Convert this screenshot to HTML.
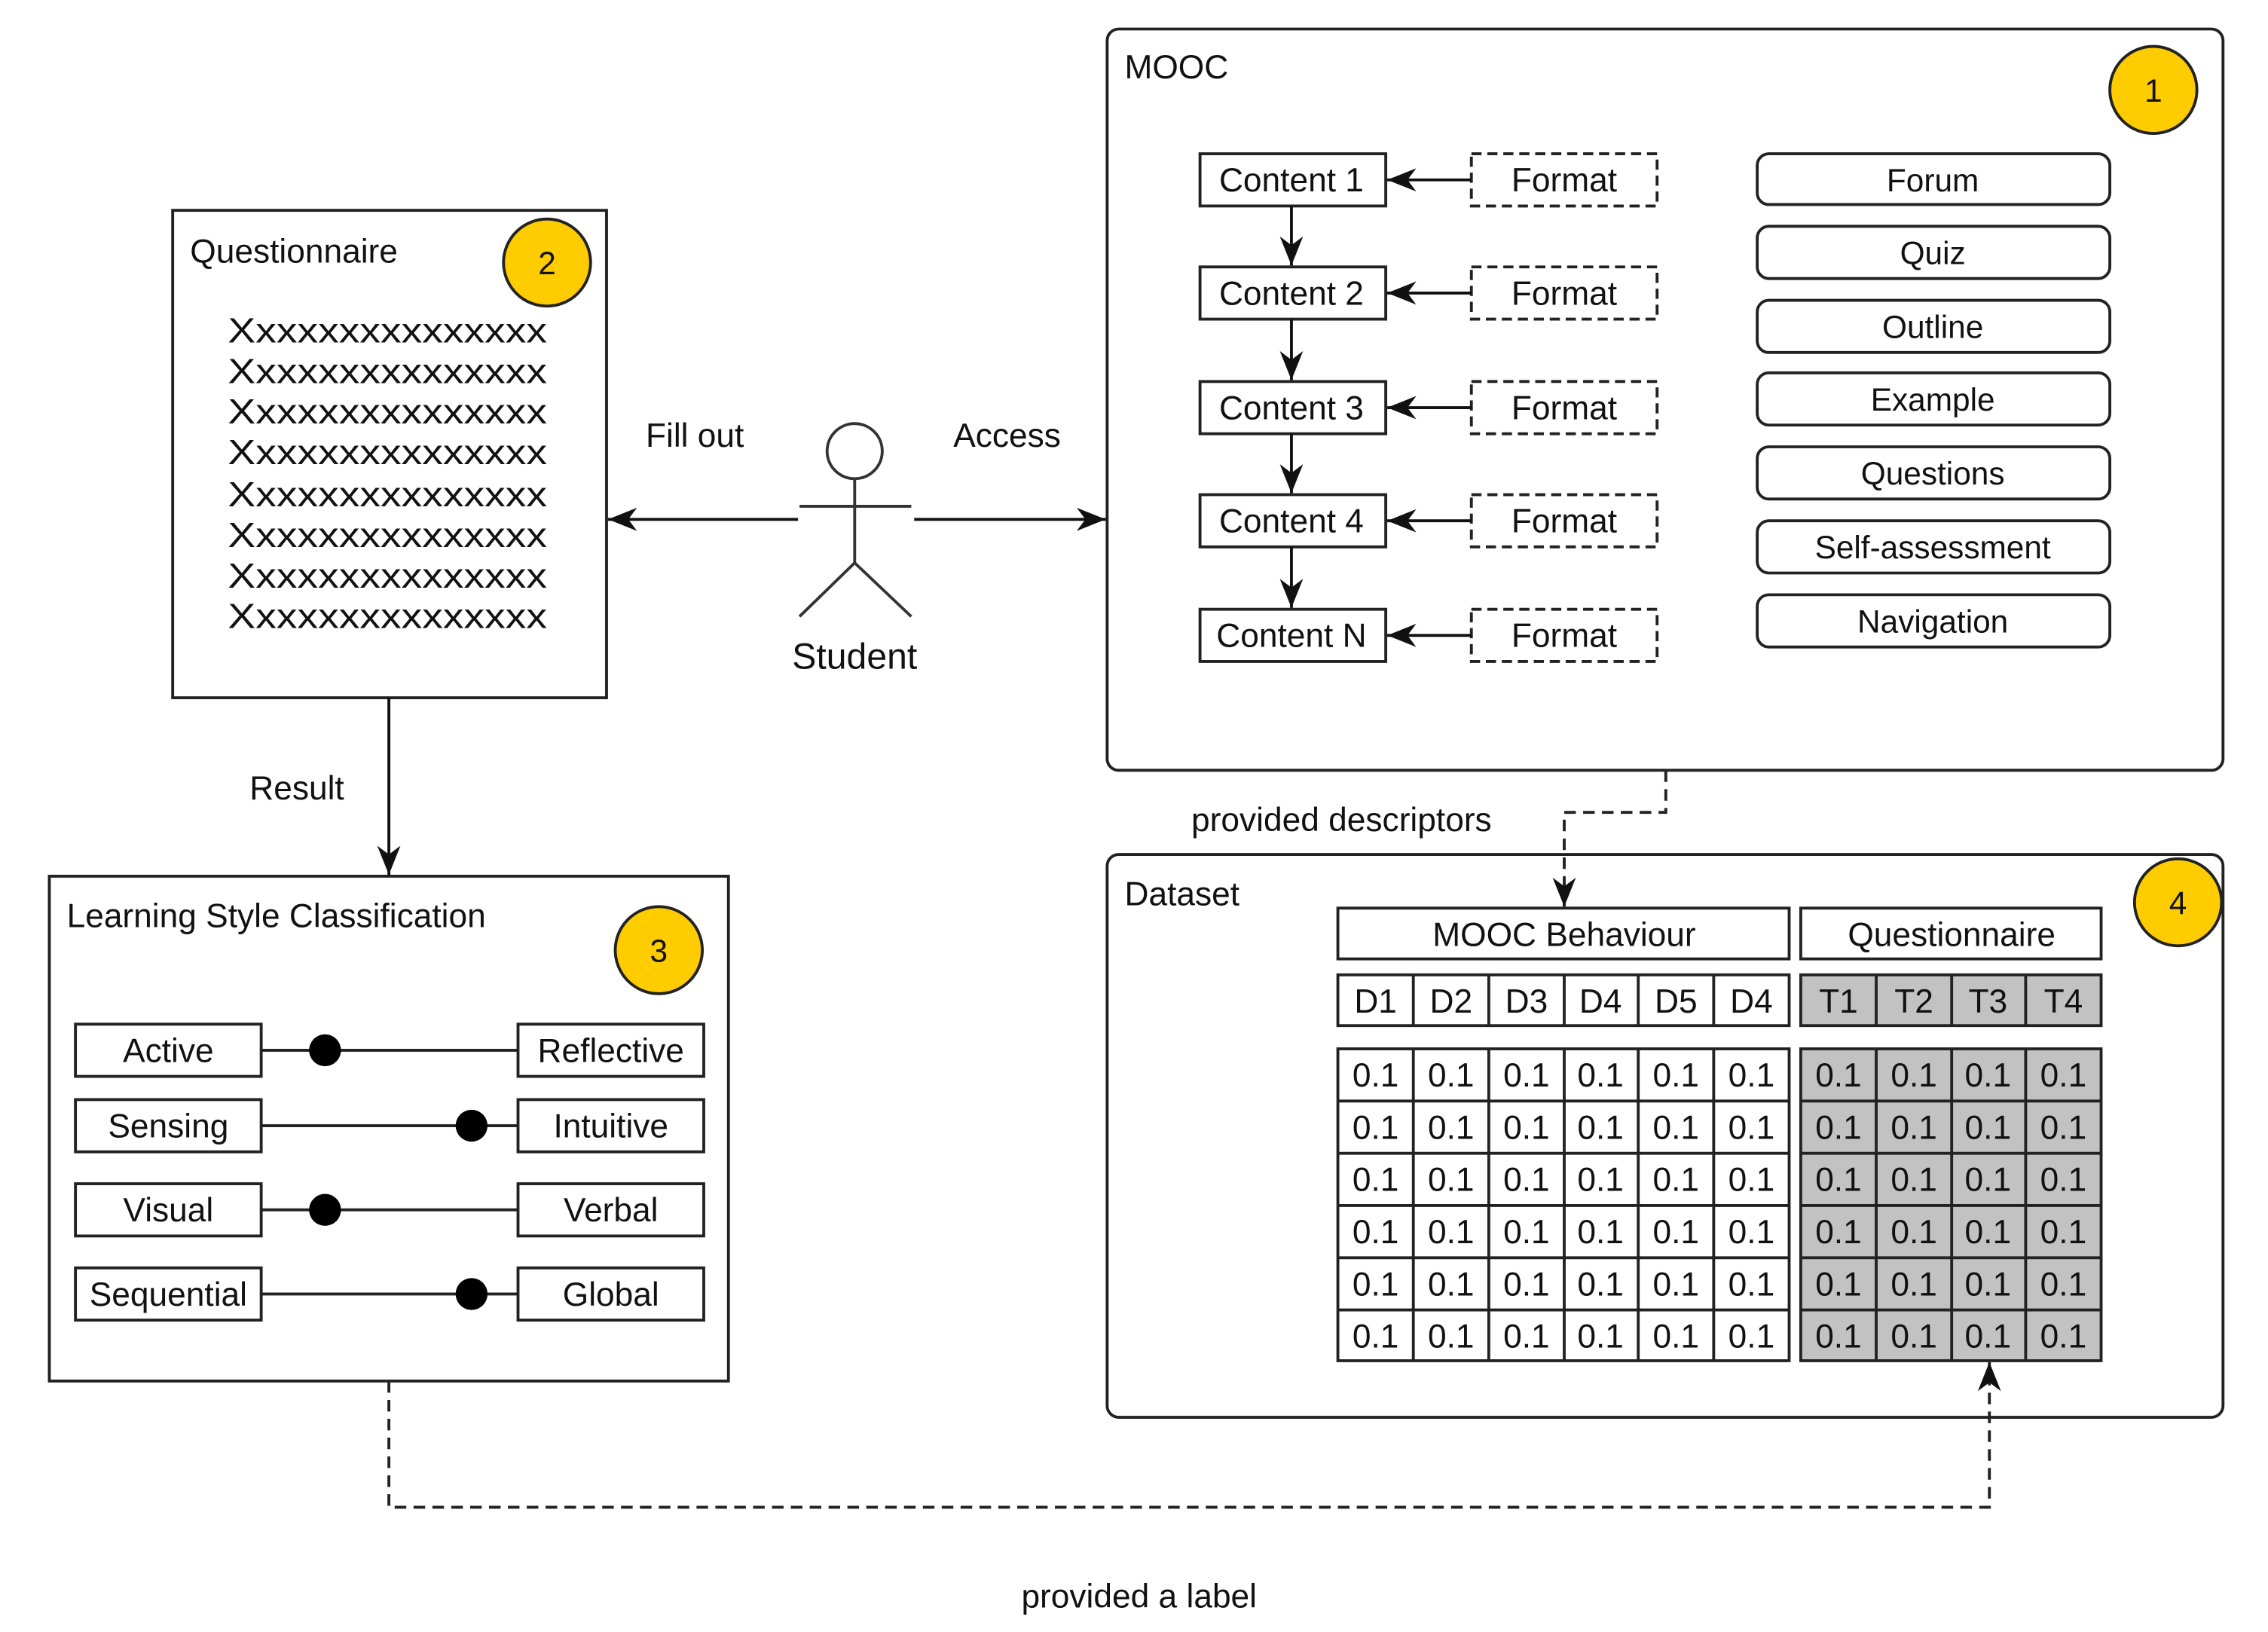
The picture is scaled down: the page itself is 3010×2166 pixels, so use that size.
<!DOCTYPE html>
<html><head><meta charset="utf-8"><style>
html,body{margin:0;padding:0;background:#fff;}
svg{display:block;}
text{font-family:"Liberation Sans",sans-serif;fill:#111;}
</style></head><body>
<svg width="3010" height="2166" viewBox="0 0 1563 1125" preserveAspectRatio="none" xmlns="http://www.w3.org/2000/svg">
<defs>
<marker id="a" viewBox="0 0 20 16" refX="20" refY="8" markerWidth="20" markerHeight="16" markerUnits="userSpaceOnUse" orient="auto">
<path d="M0,0 L20,8 L0,16 L6,8 Z" fill="#111"/>
</marker>
</defs>
<g stroke="#222" stroke-width="2" fill="none">
<rect x="763" y="20" width="769" height="511" rx="8"/>
<rect x="763" y="589" width="769" height="388" rx="8"/>
<rect x="119" y="145" width="299" height="336"/>
<rect x="34" y="604" width="468" height="348"/>
</g>
<text x="775" y="54" font-size="23">MOOC</text>
<text x="775" y="624" font-size="23">Dataset</text>
<text x="131" y="181" font-size="23">Questionnaire</text>
<text x="46" y="639" font-size="23">Learning Style Classification</text>

<g stroke="#222" stroke-width="2" fill="#FFCC00">
<circle cx="1484" cy="62" r="30"/>
<circle cx="377" cy="181" r="30"/>
<circle cx="454" cy="655" r="30"/>
<circle cx="1501" cy="622" r="30"/>
</g>
<g font-size="22" text-anchor="middle">
<text x="1484" y="70">1</text>
<text x="377" y="189">2</text>
<text x="454" y="663">3</text>
<text x="1501" y="630">4</text>
</g>

<g stroke="#222" stroke-width="2" fill="#fff">
<rect x="827" y="106" width="128" height="36"/>
<rect x="827" y="184" width="128" height="36"/>
<rect x="827" y="263" width="128" height="36"/>
<rect x="827" y="341" width="128" height="36"/>
<rect x="827" y="420" width="128" height="36"/>
</g>
<g stroke="#222" stroke-width="2" fill="none" stroke-dasharray="7,4">
<rect x="1014" y="106" width="128" height="36"/>
<rect x="1014" y="184" width="128" height="36"/>
<rect x="1014" y="263" width="128" height="36"/>
<rect x="1014" y="341" width="128" height="36"/>
<rect x="1014" y="420" width="128" height="36"/>
</g>
<g stroke="#111" stroke-width="2" marker-end="url(#a)">
<line x1="1014" y1="124" x2="956" y2="124"/>
<line x1="1014" y1="202" x2="956" y2="202"/>
<line x1="1014" y1="281" x2="956" y2="281"/>
<line x1="1014" y1="359" x2="956" y2="359"/>
<line x1="1014" y1="438" x2="956" y2="438"/>
<line x1="890" y1="142" x2="890" y2="183"/>
<line x1="890" y1="220" x2="890" y2="262"/>
<line x1="890" y1="299" x2="890" y2="340"/>
<line x1="890" y1="377" x2="890" y2="419"/>
</g>
<g font-size="23" text-anchor="middle">
<text x="890" y="132">Content 1</text>
<text x="890" y="210">Content 2</text>
<text x="890" y="289">Content 3</text>
<text x="890" y="367">Content 4</text>
<text x="890" y="446">Content N</text>
<text x="1078" y="132">Format</text>
<text x="1078" y="210">Format</text>
<text x="1078" y="289">Format</text>
<text x="1078" y="367">Format</text>
<text x="1078" y="446">Format</text>
</g>

<g stroke="#222" stroke-width="2" fill="#fff">
<rect x="1211" y="106" width="243" height="35" rx="8"/>
<rect x="1211" y="156" width="243" height="36" rx="8"/>
<rect x="1211" y="207" width="243" height="36" rx="8"/>
<rect x="1211" y="257" width="243" height="36" rx="8"/>
<rect x="1211" y="308" width="243" height="36" rx="8"/>
<rect x="1211" y="359" width="243" height="36" rx="8"/>
<rect x="1211" y="410" width="243" height="36" rx="8"/>
</g>
<g font-size="22" text-anchor="middle">
<text x="1332" y="132">Forum</text>
<text x="1332" y="182">Quiz</text>
<text x="1332" y="233">Outline</text>
<text x="1332" y="283">Example</text>
<text x="1332" y="334">Questions</text>
<text x="1332" y="385">Self-assessment</text>
<text x="1332" y="436">Navigation</text>
</g>

<g font-size="24">
<text x="157" y="236" textLength="220" lengthAdjust="spacingAndGlyphs">Xxxxxxxxxxxxxxx</text>
<text x="157" y="264" textLength="220" lengthAdjust="spacingAndGlyphs">Xxxxxxxxxxxxxxx</text>
<text x="157" y="292" textLength="220" lengthAdjust="spacingAndGlyphs">Xxxxxxxxxxxxxxx</text>
<text x="157" y="320" textLength="220" lengthAdjust="spacingAndGlyphs">Xxxxxxxxxxxxxxx</text>
<text x="157" y="349" textLength="220" lengthAdjust="spacingAndGlyphs">Xxxxxxxxxxxxxxx</text>
<text x="157" y="377" textLength="220" lengthAdjust="spacingAndGlyphs">Xxxxxxxxxxxxxxx</text>
<text x="157" y="405" textLength="220" lengthAdjust="spacingAndGlyphs">Xxxxxxxxxxxxxxx</text>
<text x="157" y="433" textLength="220" lengthAdjust="spacingAndGlyphs">Xxxxxxxxxxxxxxx</text>
</g>

<g stroke="#333" stroke-width="2" fill="none">
<circle cx="589" cy="311" r="19"/>
<line x1="589" y1="330" x2="589" y2="388"/>
<line x1="551" y1="349" x2="628" y2="349"/>
<line x1="589" y1="388" x2="551" y2="425"/>
<line x1="589" y1="388" x2="628" y2="425"/>
</g>
<text x="589" y="461" font-size="25" text-anchor="middle">Student</text>
<g stroke="#111" stroke-width="2" marker-end="url(#a)">
<line x1="550" y1="358" x2="419" y2="358"/>
<line x1="630" y1="358" x2="762" y2="358"/>
<line x1="268" y1="481" x2="268" y2="603"/>
</g>
<text x="445" y="308" font-size="23">Fill out</text>
<text x="657" y="308" font-size="23">Access</text>
<text x="172" y="551" font-size="23">Result</text>

<g stroke="#222" stroke-width="2">
<line x1="180" y1="724" x2="357" y2="724"/>
<line x1="180" y1="776" x2="357" y2="776"/>
<line x1="180" y1="834" x2="357" y2="834"/>
<line x1="180" y1="892" x2="357" y2="892"/>
</g>
<g stroke="#222" stroke-width="2" fill="#fff">
<rect x="52" y="706" width="128" height="36"/>
<rect x="52" y="758" width="128" height="36"/>
<rect x="52" y="816" width="128" height="36"/>
<rect x="52" y="874" width="128" height="36"/>
<rect x="357" y="706" width="128" height="36"/>
<rect x="357" y="758" width="128" height="36"/>
<rect x="357" y="816" width="128" height="36"/>
<rect x="357" y="874" width="128" height="36"/>
</g>
<g fill="#000">
<circle cx="224" cy="724" r="11"/>
<circle cx="325" cy="776" r="11"/>
<circle cx="224" cy="834" r="11"/>
<circle cx="325" cy="892" r="11"/>
</g>
<g font-size="23" text-anchor="middle">
<text x="116" y="732">Active</text>
<text x="116" y="784">Sensing</text>
<text x="116" y="842">Visual</text>
<text x="116" y="900">Sequential</text>
<text x="421" y="732">Reflective</text>
<text x="421" y="784">Intuitive</text>
<text x="421" y="842">Verbal</text>
<text x="421" y="900">Global</text>
</g>

<g stroke="#222" stroke-width="2" fill="#fff">
<rect x="922" y="626" width="311" height="35"/>
<rect x="1241" y="626" width="207" height="35"/>
</g>
<text x="1078" y="652" font-size="23" text-anchor="middle">MOOC Behaviour</text>
<text x="1345" y="652" font-size="23" text-anchor="middle">Questionnaire</text>
<g stroke="#222" stroke-width="2">
<rect x="922" y="672" width="311" height="35" fill="#fff"/>
<rect x="1241" y="672" width="207" height="35" fill="#c2c2c2"/>
<rect x="922" y="723" width="311" height="215" fill="#fff"/>
<rect x="1241" y="723" width="207" height="215" fill="#c2c2c2"/>
<path d="M974,672V707M1026,672V707M1078,672V707M1129,672V707M1181,672V707M1293,672V707M1345,672V707M1396,672V707"/>
<path d="M974,723V938M1026,723V938M1078,723V938M1129,723V938M1181,723V938M1293,723V938M1345,723V938M1396,723V938"/>
<path d="M922,759H1233M922,795H1233M922,831H1233M922,867H1233M922,903H1233M1241,759H1448M1241,795H1448M1241,831H1448M1241,867H1448M1241,903H1448"/>
</g>
<g font-size="23" text-anchor="middle">
<text x="948" y="698">D1</text><text x="1000" y="698">D2</text><text x="1052" y="698">D3</text><text x="1103" y="698">D4</text><text x="1155" y="698">D5</text><text x="1207" y="698">D4</text>
<text x="1267" y="698">T1</text><text x="1319" y="698">T2</text><text x="1370" y="698">T3</text><text x="1422" y="698">T4</text>
</g>
<g font-size="23" text-anchor="middle">
<text y="749"><tspan x="948">0.1</tspan><tspan x="1000">0.1</tspan><tspan x="1052">0.1</tspan><tspan x="1103">0.1</tspan><tspan x="1155">0.1</tspan><tspan x="1207">0.1</tspan><tspan x="1267">0.1</tspan><tspan x="1319">0.1</tspan><tspan x="1370">0.1</tspan><tspan x="1422">0.1</tspan></text>
<text y="785"><tspan x="948">0.1</tspan><tspan x="1000">0.1</tspan><tspan x="1052">0.1</tspan><tspan x="1103">0.1</tspan><tspan x="1155">0.1</tspan><tspan x="1207">0.1</tspan><tspan x="1267">0.1</tspan><tspan x="1319">0.1</tspan><tspan x="1370">0.1</tspan><tspan x="1422">0.1</tspan></text>
<text y="821"><tspan x="948">0.1</tspan><tspan x="1000">0.1</tspan><tspan x="1052">0.1</tspan><tspan x="1103">0.1</tspan><tspan x="1155">0.1</tspan><tspan x="1207">0.1</tspan><tspan x="1267">0.1</tspan><tspan x="1319">0.1</tspan><tspan x="1370">0.1</tspan><tspan x="1422">0.1</tspan></text>
<text y="857"><tspan x="948">0.1</tspan><tspan x="1000">0.1</tspan><tspan x="1052">0.1</tspan><tspan x="1103">0.1</tspan><tspan x="1155">0.1</tspan><tspan x="1207">0.1</tspan><tspan x="1267">0.1</tspan><tspan x="1319">0.1</tspan><tspan x="1370">0.1</tspan><tspan x="1422">0.1</tspan></text>
<text y="893"><tspan x="948">0.1</tspan><tspan x="1000">0.1</tspan><tspan x="1052">0.1</tspan><tspan x="1103">0.1</tspan><tspan x="1155">0.1</tspan><tspan x="1207">0.1</tspan><tspan x="1267">0.1</tspan><tspan x="1319">0.1</tspan><tspan x="1370">0.1</tspan><tspan x="1422">0.1</tspan></text>
<text y="929"><tspan x="948">0.1</tspan><tspan x="1000">0.1</tspan><tspan x="1052">0.1</tspan><tspan x="1103">0.1</tspan><tspan x="1155">0.1</tspan><tspan x="1207">0.1</tspan><tspan x="1267">0.1</tspan><tspan x="1319">0.1</tspan><tspan x="1370">0.1</tspan><tspan x="1422">0.1</tspan></text>
</g>

<g stroke="#222" stroke-width="2" fill="none" stroke-dasharray="8,5">
<path d="M1148,531 V560 H1078 V625" marker-end="url(#a)"/>
<path d="M268,952 V1039 H1371 V939" marker-end="url(#a)"/>
</g>
<text x="821" y="573" font-size="23">provided descriptors</text>
<text x="785" y="1108" font-size="23" text-anchor="middle">provided a label</text>
</svg>
</body></html>
